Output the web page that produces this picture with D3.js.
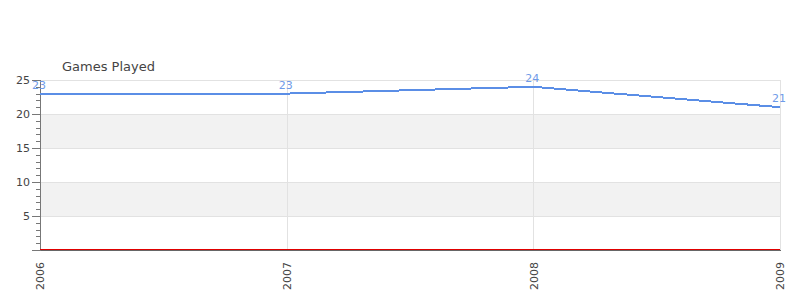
<!DOCTYPE html>
<html>
<head>
<meta charset="utf-8">
<script src="https://cdn.jsdelivr.net/npm/d3@7"></script>
<style>
  body { margin: 0; background: #fff; }
  text { font-family: "DejaVu Sans", sans-serif; }
</style>
</head>
<body>
<div id="chart"></div>
<script>
var years = [2006, 2007, 2008, 2009];
var gamesPlayed = [23, 23, 24, 21];
var baseline = [0, 0, 0, 0];
var yTicks = [5, 10, 15, 20, 25];
var title = "Games Played";

var margin = {top: 80, right: 20, bottom: 50, left: 40};
var width = 800 - margin.left - margin.right;
var height = 300 - margin.top - margin.bottom;

var svg = d3.select("#chart").append("svg")
    .attr("width", 800)
    .attr("height", 300)
  .append("g")
    .attr("transform", "translate(" + margin.left + "," + margin.top + ")");

var x = d3.scaleLinear().domain([2006, 2009]).range([0, width]);
var y = d3.scaleLinear().domain([0, 25]).range([height, 0]);

// alternating bands
var bands = [[15, 20], [5, 10]];
svg.selectAll(".band")
    .data(bands)
  .enter().append("rect")
    .attr("class", "band")
    .attr("x", 0)
    .attr("width", width)
    .attr("y", function(d) { return y(d[1]); })
    .attr("height", function(d) { return y(d[0]) - y(d[1]); })
    .attr("fill", "#f2f2f2");

// horizontal grid
svg.append("g")
    .attr("class", "grid")
    .call(d3.axisLeft(y).tickValues(yTicks).tickSize(-width).tickFormat(""))
    .call(function(g) { g.select(".domain").remove(); })
    .selectAll("line").attr("stroke", "#e2e2e2").attr("shape-rendering", "crispEdges");

// vertical grid
svg.append("g")
    .attr("class", "grid")
    .attr("transform", "translate(0," + height + ")")
    .call(d3.axisBottom(x).tickValues(years.slice(1)).tickSize(-height).tickFormat(""))
    .call(function(g) { g.select(".domain").remove(); })
    .selectAll("line").attr("stroke", "#e2e2e2").attr("shape-rendering", "crispEdges");

// minor y ticks
svg.append("g")
    .call(d3.axisLeft(y).tickValues(d3.range(1, 25)).tickSize(4).tickFormat(""))
    .call(function(g) { g.select(".domain").remove(); })
    .selectAll("line").attr("stroke", "#777").attr("shape-rendering", "crispEdges");

// y axis
var yAxis = svg.append("g")
    .call(d3.axisLeft(y).tickValues(yTicks).tickSize(8).tickPadding(2));
yAxis.select(".domain").attr("stroke", "#777").attr("shape-rendering", "crispEdges");
yAxis.selectAll(".tick line").attr("stroke", "#777").attr("shape-rendering", "crispEdges");
yAxis.selectAll("text")
    .attr("fill", "#444")
    .style("font-size", "11px");

// red baseline series
svg.append("path")
    .datum(baseline)
    .attr("fill", "none")
    .attr("stroke", "#e00000")
    .attr("stroke-width", 1)
    .attr("shape-rendering", "crispEdges")
    .attr("d", d3.line()
        .x(function(d, i) { return x(years[i]); })
        .y(function(d) { return y(d) - 0.5; }));

// x axis
var xAxis = svg.append("g")
    .attr("transform", "translate(0," + height + ")")
    .call(d3.axisBottom(x).tickValues(years).tickSize(0).tickFormat(d3.format("d")));
xAxis.select(".domain").attr("stroke", "#666").attr("shape-rendering", "crispEdges");
xAxis.selectAll("text")
    .attr("fill", "#444")
    .style("font-size", "11px")
    .style("text-anchor", "end")
    .attr("transform", "translate(0,12) rotate(-90)")
    .attr("x", 0)
    .attr("y", 0)
    .attr("dy", "0.35em");

// main series
svg.append("path")
    .datum(gamesPlayed)
    .attr("fill", "none")
    .attr("stroke", "#5b8ee6")
    .attr("stroke-width", 2)
    .attr("shape-rendering", "crispEdges")
    .attr("d", d3.line()
        .x(function(d, i) { return x(years[i]); })
        .y(function(d) { return y(d); }));

svg.selectAll(".label")
    .data(gamesPlayed)
  .enter().append("text")
    .attr("class", "label")
    .attr("x", function(d, i) { return x(years[i]) - 1; })
    .attr("y", function(d) { return y(d) - 5; })
    .attr("text-anchor", "middle")
    .attr("fill", "#6f9be8")
    .style("font-size", "11px")
    .text(function(d) { return d; });

svg.append("text")
    .attr("x", 22)
    .attr("y", -9)
    .attr("fill", "#444")
    .style("font-size", "13px")
    .text(title);
</script>
</body>
</html>
